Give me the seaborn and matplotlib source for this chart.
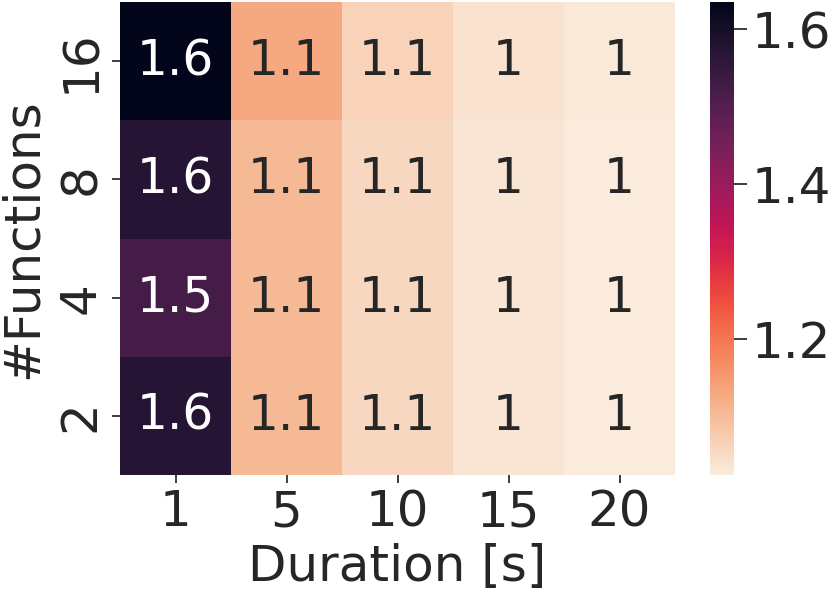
import numpy as np
import pandas as pd
import matplotlib
matplotlib.use("Agg")
import matplotlib.pyplot as plt
import seaborn as sns

# speedup per (#functions, duration)
durations = [1, 5, 10, 15, 20]
functions = [16, 8, 4, 2]
row_16 = [1.635, 1.13, 1.065, 1.040, 1.030]
row_8 = [1.575, 1.105, 1.058, 1.035, 1.027]
row_4 = [1.525, 1.105, 1.058, 1.035, 1.027]
row_2 = [1.575, 1.105, 1.058, 1.035, 1.027]

df = pd.DataFrame([row_16, row_8, row_4, row_2], index=functions, columns=durations)

sns.set_theme(style="ticks")
plt.rcParams['font.family'] = ['DejaVu Sans']

fig = plt.figure(figsize=(8.3, 5.91), dpi=100)
ax = fig.add_axes([120/830, 1 - 475/591, (675 - 120)/830, (475 - 2)/591])
cax = fig.add_axes([710/830, 1 - 475/591, 24/830, (475 - 2)/591])

sns.heatmap(df, ax=ax, cbar_ax=cax, cmap='rocket_r', annot=True, fmt='.2g',
            vmin=1.025, vmax=1.635, annot_kws={'size': 35})

ax.set_xlabel('Duration [s]', fontsize=36, labelpad=5)
ax.set_ylabel('#Functions', fontsize=36, labelpad=7)
ax.tick_params(axis='both', labelsize=36, length=6)
ax.tick_params(axis='y', pad=5)
plt.setp(ax.get_yticklabels(), rotation=90, va='center')
plt.setp(ax.get_xticklabels(), rotation=0)

cax.set_yticks([1.2, 1.4, 1.6])
cax.tick_params(labelsize=36, length=9)
cax.yaxis.set_major_formatter(matplotlib.ticker.FormatStrFormatter('%.1f'))

fig.savefig('out.png', dpi=100)
